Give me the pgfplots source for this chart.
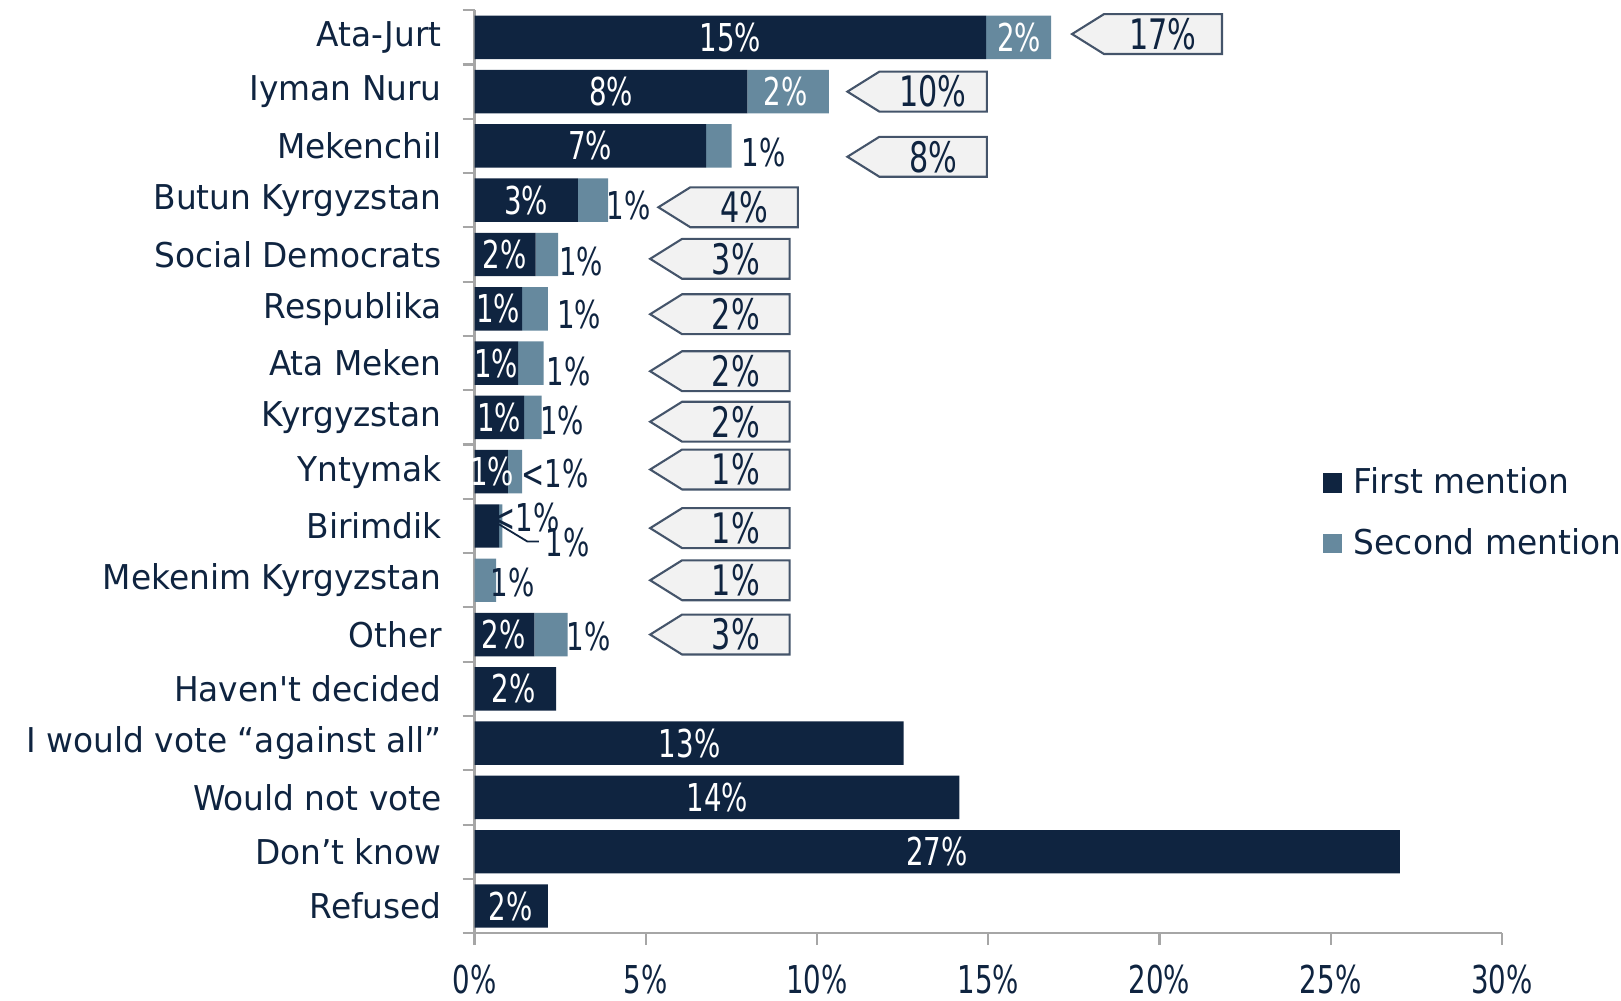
\documentclass[border=0pt]{standalone}
\usepackage{fontspec}
\setmainfont[FakeStretch=0.96,Ligatures=TeXOff]{DejaVu Sans}
\newfontfamily\numfont[FakeStretch=0.72]{DejaVu Sans}
\usepackage{pgfplots}
\pgfplotsset{compat=1.18}
\usetikzlibrary{shapes.symbols}

\definecolor{navy}{HTML}{0F2440}
\definecolor{steel}{HTML}{66899E}
\definecolor{callfill}{HTML}{F2F2F2}
\definecolor{callline}{HTML}{44546A}
\definecolor{axisgray}{HTML}{A6A6A6}

\newcommand{\lblfont}{\fontsize{11.4}{13}\selectfont}
\newcommand{\valfont}{\numfont\fontsize{12.8}{14}\selectfont}
\newcommand{\callfont}{\numfont\fontsize{14}{16}\selectfont}

\pgfplotsset{
  labels/.style={only marks, mark=*, mark size=0pt, mark options={draw=none,fill=none},
    forget plot, nodes near coords, point meta=explicit symbolic,
    every node near coord/.style={anchor=center, inner sep=0pt, #1}},
  callout/.style={labels={signal, signal to=west, signal pointer angle=64,
    draw=callline, line width=0.7pt, fill=callfill, text=navy, font=\callfont,
    minimum height=13.3pt, minimum width=#1, anchor=west}},
  frame/.style={scale only axis, width=342.5pt, height=307.7pt,
    xmin=0, xmax=30, ymin=-0.5, ymax=16.5},
}

\begin{document}
\begin{tikzpicture}
\useasboundingbox (-158.2pt,-22.5pt) rectangle (382.2pt,311.1pt);

% bars (rows counted from the bottom: Refused = 0 ... Ata-Jurt = 16)
\begin{axis}[
  frame,
  xbar stacked, bar width=0.8,
  axis x line*=bottom, axis y line*=left,
  axis line style={axisgray, line width=0.7pt},
  tick style={axisgray, line width=0.7pt},
  tick align=outside, major tick length=4pt,
  xtick={0,5,...,30}, xticklabels={0\%,5\%,10\%,15\%,20\%,25\%,30\%},
  xticklabel style={font=\valfont, text=navy, yshift=-3pt},
  ytick={-0.5,0.5,...,16.5}, yticklabels={},
  legend style={at={(0.825,0.455)}, anchor=west, draw=none, fill=none,
    font=\lblfont, text=navy, row sep=6pt, inner sep=0pt,
    nodes={inner xsep=4pt}},
  legend cell align=left,
]
\addplot[fill=navy, draw=none,
  legend image code/.code={\fill[navy] (0pt,-3.2pt) rectangle (6.4pt,3.2pt);}]
coordinates {
  (14.94,16) (7.97,15) (6.76,14) (3.02,13) (1.78,12) (1.39,11) (1.27,10)
  (1.45,9) (0.97,8) (0.72,7) (0,6) (1.75,5) (2.38,4) (12.53,3) (14.16,2)
  (27.02,1) (2.14,0)
};
\addplot[fill=steel, draw=none,
  legend image code/.code={\fill[steel] (0pt,-3.2pt) rectangle (6.4pt,3.2pt);}]
coordinates {
  (1.90,16) (2.38,15) (0.75,14) (0.88,13) (0.66,12) (0.75,11) (0.75,10)
  (0.51,9) (0.42,8) (0.09,7) (0.63,6) (0.97,5) (0,4) (0,3) (0,2)
  (0,1) (0,0)
};
\legend{First mention, Second mention}
\end{axis}

% category names, value labels and total call-outs
\begin{axis}[
  frame, clip=false,
  axis line style={draw=none}, tick style={draw=none},
  xtick=\empty, ytick={0,...,16},
  yticklabels={Refused, Don’t know, Would not vote, I would vote “against all”,
    Haven't decided, Other, Mekenim Kyrgyzstan, Birimdik, Yntymak, Kyrgyzstan,
    Ata Meken, Respublika, Social Democrats, Butun Kyrgyzstan, Mekenchil,
    Iyman Nuru, Ata-Jurt},
  yticklabel style={font=\lblfont, text=navy, xshift=-7.4pt},
]
% first mention, inside the bars
\addplot[labels={font=\valfont, text=white}] coordinates {
  (7.47,16)[15\%] (3.99,15)[8\%] (3.38,14)[7\%] (1.51,13)[3\%] (0.875,12)[2\%]
  (0.69,11)[1\%] (0.63,10)[1\%] (0.72,9)[1\%] (0.51,8)[1\%] (0.85,5)[2\%]
  (1.15,4)[2\%] (6.28,3)[13\%] (7.09,2)[14\%] (13.5,1)[27\%] (1.06,0)[2\%]
};
% second mention, inside
\addplot[labels={font=\valfont, text=white}] coordinates {
  (15.9,16)[2\%] (9.09,15)[2\%]
};
% second mention, outside
\addplot[labels={font=\valfont, text=navy}] coordinates {
  (8.45,13.87)[1\%] (4.50,12.9)[1\%] (3.11,11.87)[1\%] (3.05,10.9)[1\%]
  (2.75,9.85)[1\%] (2.56,8.95)[1\%] (2.35,7.97)[<1\%] (1.50,7.15)[<1\%]
  (2.72,6.70)[1\%] (1.11,5.96)[1\%] (3.34,4.96)[1\%]
};
% leader line for Birimdik
\addplot[navy, line width=0.6pt, no marks, forget plot] coordinates {
  (0.69,7.04) (1.54,6.715) (1.88,6.715)
};
% totals
\addplot[callout=50pt] coordinates {(17.39,16.06)[17\%]};
\addplot[callout=46.5pt] coordinates {
  (10.83,15)[10\%] (10.83,13.8)[8\%] (5.31,12.87)[4\%]
  (5.07,11.92)[3\%] (5.07,10.9)[2\%] (5.07,9.85)[2\%] (5.07,8.92)[2\%]
  (5.07,8.04)[1\%] (5.07,6.96)[1\%] (5.07,6)[1\%] (5.07,5)[3\%]
};
\end{axis}
\end{tikzpicture}
\end{document}
